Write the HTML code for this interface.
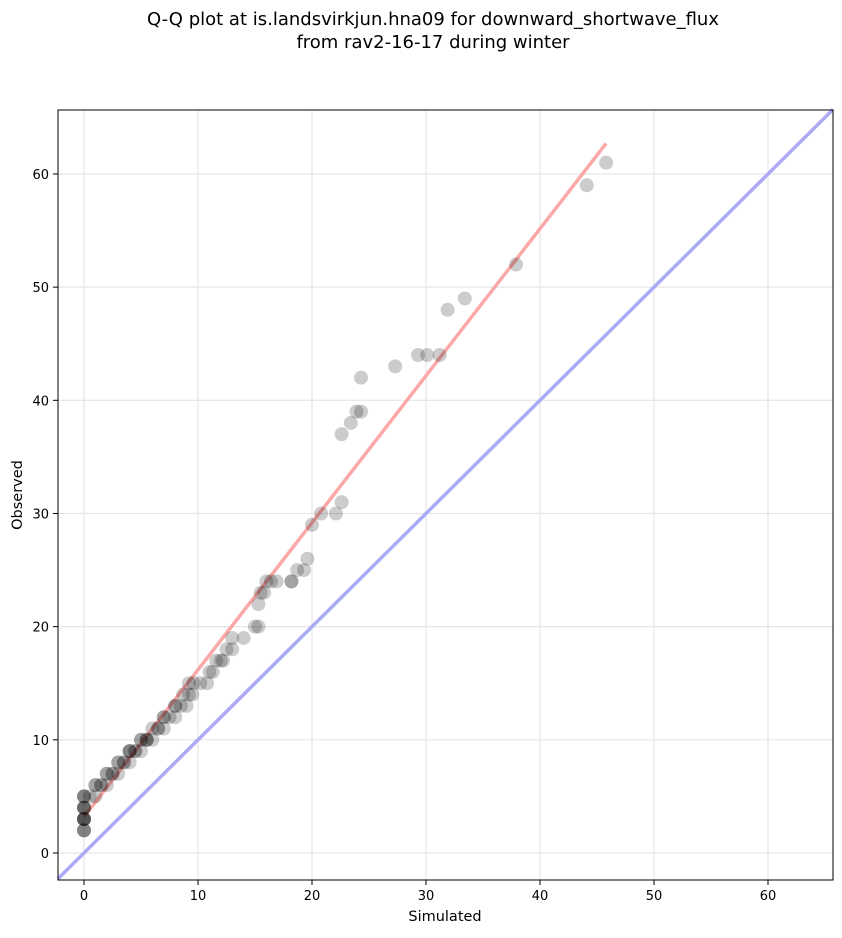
<!DOCTYPE html>
<html><head><meta charset="utf-8"><style>
body{margin:0;background:#fff;font-family:"DejaVu Sans","Liberation Sans",sans-serif}
</style></head><body>
<svg id="c" width="842" height="934" xmlns="http://www.w3.org/2000/svg" font-family="DejaVu Sans, Liberation Sans, sans-serif">
<text x="433" y="25" text-anchor="middle" font-size="18">Q-Q plot at is.landsvirkjun.hna09 for downward_shortwave_flux</text>
<text x="433" y="48" text-anchor="middle" font-size="18">from rav2-16-17 during winter</text>
<text x="445" y="921" text-anchor="middle" font-size="14.5">Simulated</text>
<text x="22" y="495" text-anchor="middle" font-size="14.5" transform="rotate(-90 22 495)">Observed</text>
<g id="grid"></g><g id="lines"></g><g id="pts"></g><g id="ticks"></g>
<rect x="58" y="110" width="775" height="770" fill="none" stroke="#000" stroke-width="1"/>
</svg>
<script>
const xTicks=[0,10,20,30,40,50,60];
const yTicks=[0,10,20,30,40,50,60];
const simulated=[0,0,0,0,0,0,0,0,0,0,0,0,0,0,0,0.5,1,1,1,1.5,1.5,2,2,2,2.5,2.5,3,3,3,3.5,3.5,4,4,4,4,4.5,4.5,5,5,5,5.5,5.5,5.5,6,6,6.5,6.5,7,7,7,7.5,8,8,8,8.5,9,8.7,9.2,9.5,9.2,9.6,10.2,10.8,11,11.3,11.6,12,12.2,12.5,13,13,14,15,15.3,15.3,15.5,15.8,16,16.4,16.9,18.2,18.2,18.7,19.3,19.6,20,20.8,22.1,22.6,22.6,23.4,23.9,24.3,24.3,27.3,29.3,30.1,31.2,31.9,33.4,37.9,44.1,45.8];
const observed=[2,2,2,3,3,3,3,3,4,4,4,4,5,5,5,5,5,6,6,6,6,6,7,7,7,7,7,8,8,8,8,8,9,9,9,9,9,9,10,10,10,10,10,10,11,11,11,11,12,12,12,12,13,13,13,13,14,14,14,15,15,15,15,16,16,17,17,17,18,18,19,19,20,20,22,23,23,24,24,24,24,24,25,25,26,29,30,30,31,37,38,39,39,42,43,44,44,44,48,49,52,59,61];
const fitLine=[[0,3.2],[45.8,62.7]];
const X=v=>84+(v-0)*11.4, Y=v=>853-v*11.317;
const NS="http://www.w3.org/2000/svg";
function mk(t,a,p){const e=document.createElementNS(NS,t);for(const k in a)e.setAttribute(k,a[k]);p.appendChild(e);return e;}
const g=document.getElementById('grid'),tk=document.getElementById('ticks'),ln=document.getElementById('lines'),pt=document.getElementById('pts');
xTicks.forEach(v=>{const l=mk('line',{x1:X(v),x2:X(v),y1:110,y2:880,stroke:'#e6e6e6','stroke-width':1.2},g);

mk('line',{x1:X(v),x2:X(v),y1:880,y2:885,stroke:'#000'},tk);
const t=mk('text',{x:X(v),y:900,'text-anchor':'middle','font-size':13},tk);t.textContent=v;
});
yTicks.forEach(v=>{const l=mk('line',{x1:58,x2:833,y1:Y(v),y2:Y(v),stroke:'#e6e6e6','stroke-width':1.2},g);

mk('line',{x1:53,x2:58,y1:Y(v),y2:Y(v),stroke:'#000'},tk);
const t=mk('text',{x:49,y:Y(v)+5,'text-anchor':'end','font-size':13},tk);t.textContent=v;
});
const d=mk('line',{x1:58,y1:Y(-2.28),x2:833,y2:Y(65.7),stroke:'#aaaaf5','stroke-width':3.5},ln);

const f=mk('line',{x1:X(fitLine[0][0]),y1:Y(fitLine[0][1]),x2:X(fitLine[1][0]),y2:Y(fitLine[1][1]),stroke:'#faa8a8','stroke-width':3.5},ln);

simulated.forEach((s,i)=>{const c=mk('circle',{cx:X(s),cy:Y(observed[i]),r:7,fill:'#000','fill-opacity':0.2},pt);
});
</script>
</body></html>
